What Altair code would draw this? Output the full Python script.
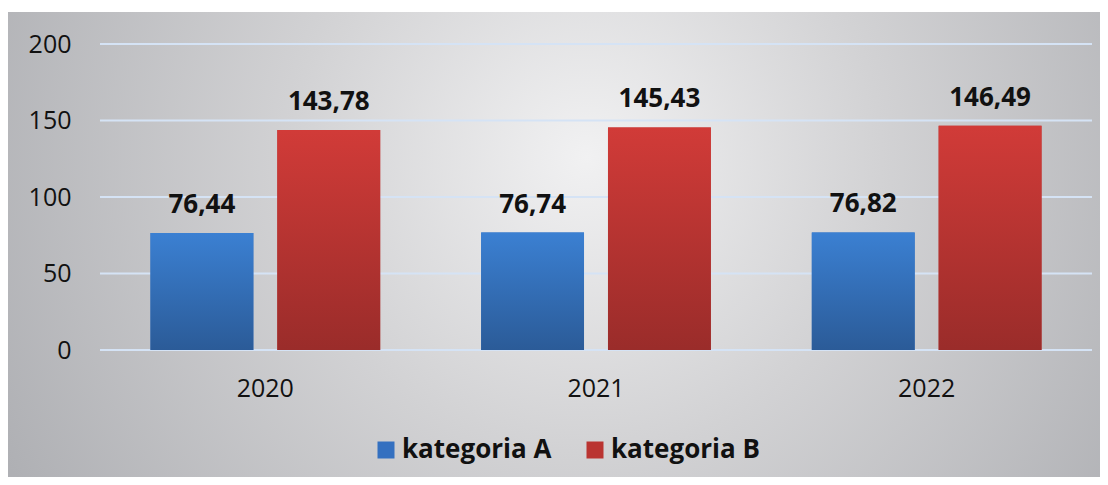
import altair as alt
import pandas as pd

# ---- data ----
years = ["2020", "2021", "2022"]
series_names = ["kategoria A", "kategoria B"]
kategoria_a = [76.44, 76.74, 76.82]
kategoria_b = [143.78, 145.43, 146.49]
y_ticks = [0, 50, 100, 150, 200]

rows = []
for i, yr in enumerate(years):
    rows.append({"year": yr, "series": series_names[0], "value": kategoria_a[i]})
    rows.append({"year": yr, "series": series_names[1], "value": kategoria_b[i]})
df = pd.DataFrame(rows)
grid_df = pd.DataFrame({"value": y_ticks})
bg_df = pd.DataFrame({"bg": [0]})

FONT = "Open Sans"
TXT = "#111111"
W, H = 992, 306

x_enc = alt.X(
    "year:N", sort=years,
    scale=alt.Scale(domain=years, paddingInner=0, paddingOuter=0),
    axis=alt.Axis(title=None, domain=False, ticks=False, grid=False, labelAngle=0, zindex=2,
                  labelFontSize=25, labelFont=FONT, labelColor=TXT, labelPadding=26),
)
xoff_enc = alt.XOffset(
    "series:N", sort=series_names,
    scale=alt.Scale(domain=series_names, paddingInner=0.189, paddingOuter=0.398),
)
y_scale = alt.Scale(domain=[0, 200])
y_axis = alt.Axis(title=None, values=y_ticks, domain=False, ticks=False, grid=False, zindex=2,
                  labelFontSize=25, labelFont=FONT, labelColor=TXT, labelPadding=29)
y_enc = alt.Y("value:Q", scale=y_scale, axis=y_axis)

bg = alt.Chart(bg_df).mark_rect(
    fill=alt.RadialGradient(
        gradient="radial", x1=0.53, y1=0.42, r1=0, x2=0.53, y2=0.42, r2=0.6,
        stops=[alt.GradientStop(offset=0, color="#f1f1f2"),
               alt.GradientStop(offset=0.45, color="#d2d2d4"),
               alt.GradientStop(offset=1, color="#afb0b4")]),
).encode(x=alt.value(-92), x2=alt.value(1000), y=alt.value(-32), y2=alt.value(433))

grid = alt.Chart(grid_df).mark_rule(color="#d5e3f5", strokeWidth=2).encode(y=y_enc)

solid = alt.Chart(df).mark_bar().encode(
    x=x_enc, xOffset=xoff_enc, y=y_enc,
    color=alt.Color(
        "series:N", sort=series_names,
        scale=alt.Scale(domain=series_names, range=["#3470c0", "#ba3431"]),
        legend=alt.Legend(
            title=None, orient="none", legendX=273, legendY=393, direction="horizontal",
            symbolType="square", symbolSize=289, symbolStrokeWidth=0,
            labelFont=FONT, labelFontSize=26, labelFontWeight="bold", labelColor=TXT,
            labelOffset=3, columnPadding=30, padding=0, zindex=2,
        ),
    ),
)

def grad_bar(name, top, bottom):
    return alt.Chart(df).transform_filter(alt.datum.series == name).mark_bar(
        fill=alt.LinearGradient(
            gradient="linear", x1=0, x2=0, y1=0, y2=1,
            stops=[alt.GradientStop(offset=0, color=top),
                   alt.GradientStop(offset=1, color=bottom)]),
    ).encode(x=x_enc, xOffset=xoff_enc, y=y_enc)

bars_a = grad_bar("kategoria A", "#3b80d2", "#2b5b98")
bars_b = grad_bar("kategoria B", "#d13b38", "#9a2c2a")

labels = alt.Chart(df).transform_calculate(
    label="replace(format(datum.value, '.2f'), '.', ',')"
).mark_text(font=FONT, fontSize=26, fontWeight="bold", color=TXT,
            baseline="alphabetic", dy=-20).encode(
    x=x_enc, xOffset=xoff_enc, y=y_enc, text="label:N"
)

chart = alt.layer(bg, grid, solid, bars_a, bars_b, labels).properties(
    width=W, height=H,
    autosize=alt.AutoSizeParams(type="none"),
    padding={"left": 92, "top": 36, "right": 8, "bottom": 127},
).configure(background="white").configure_view(stroke=None)

chart.save("out.html", embed_options={"renderer": "svg", "actions": False})
